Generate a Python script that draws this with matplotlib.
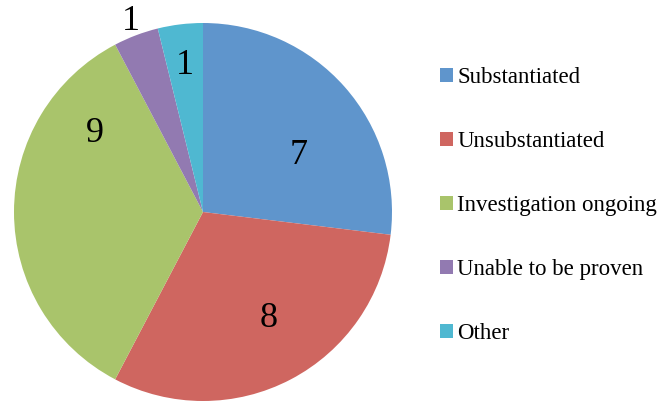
import numpy as np
import matplotlib.pyplot as plt
from matplotlib.patches import Patch

plt.rcParams['font.family'] = ['Liberation Serif', 'DejaVu Serif']

categories = ['Substantiated', 'Unsubstantiated', 'Investigation ongoing',
              'Unable to be proven', 'Other']
counts = [7, 8, 9, 1, 1]
colors = ['#5F95CC', '#CF6660', '#A9C46B', '#927AB1', '#4FB8D1']
# label placement (radius as fraction of pie radius, angle shift in degrees from wedge middle)
label_radius = [0.59, 0.66, 0.71, 1.08, 0.78]
label_shift = [-11, 4, -36, 0, 0]

fig = plt.figure(figsize=(6.71, 4.03), dpi=100)
ax = fig.add_axes([14 / 671, 2 / 403, 378 / 671, 378 / 403])

wedges, _ = ax.pie(counts, colors=colors, startangle=90, counterclock=False,
                   radius=1, wedgeprops=dict(linewidth=0))
ax.set_xlim(-1, 1)
ax.set_ylim(-1, 1)
ax.set_aspect('equal')
ax.axis('off')

for w, val, r, s in zip(wedges, counts, label_radius, label_shift):
    mid = np.deg2rad((w.theta1 + w.theta2) / 2 + s)
    ax.text(r * np.cos(mid), r * np.sin(mid), str(val), ha='center', va='center',
            fontsize=26, color='black', clip_on=False)

handles = [Patch(facecolor=c, edgecolor='none') for c in colors]
fig.legend(handles, categories, loc='center left', bbox_to_anchor=(0.642, 0.49),
           frameon=False, fontsize=16.5, handlelength=0.55, handleheight=0.55,
           handletextpad=0.2, labelspacing=1.87, borderaxespad=0)

fig.savefig('out.png', dpi=100)
